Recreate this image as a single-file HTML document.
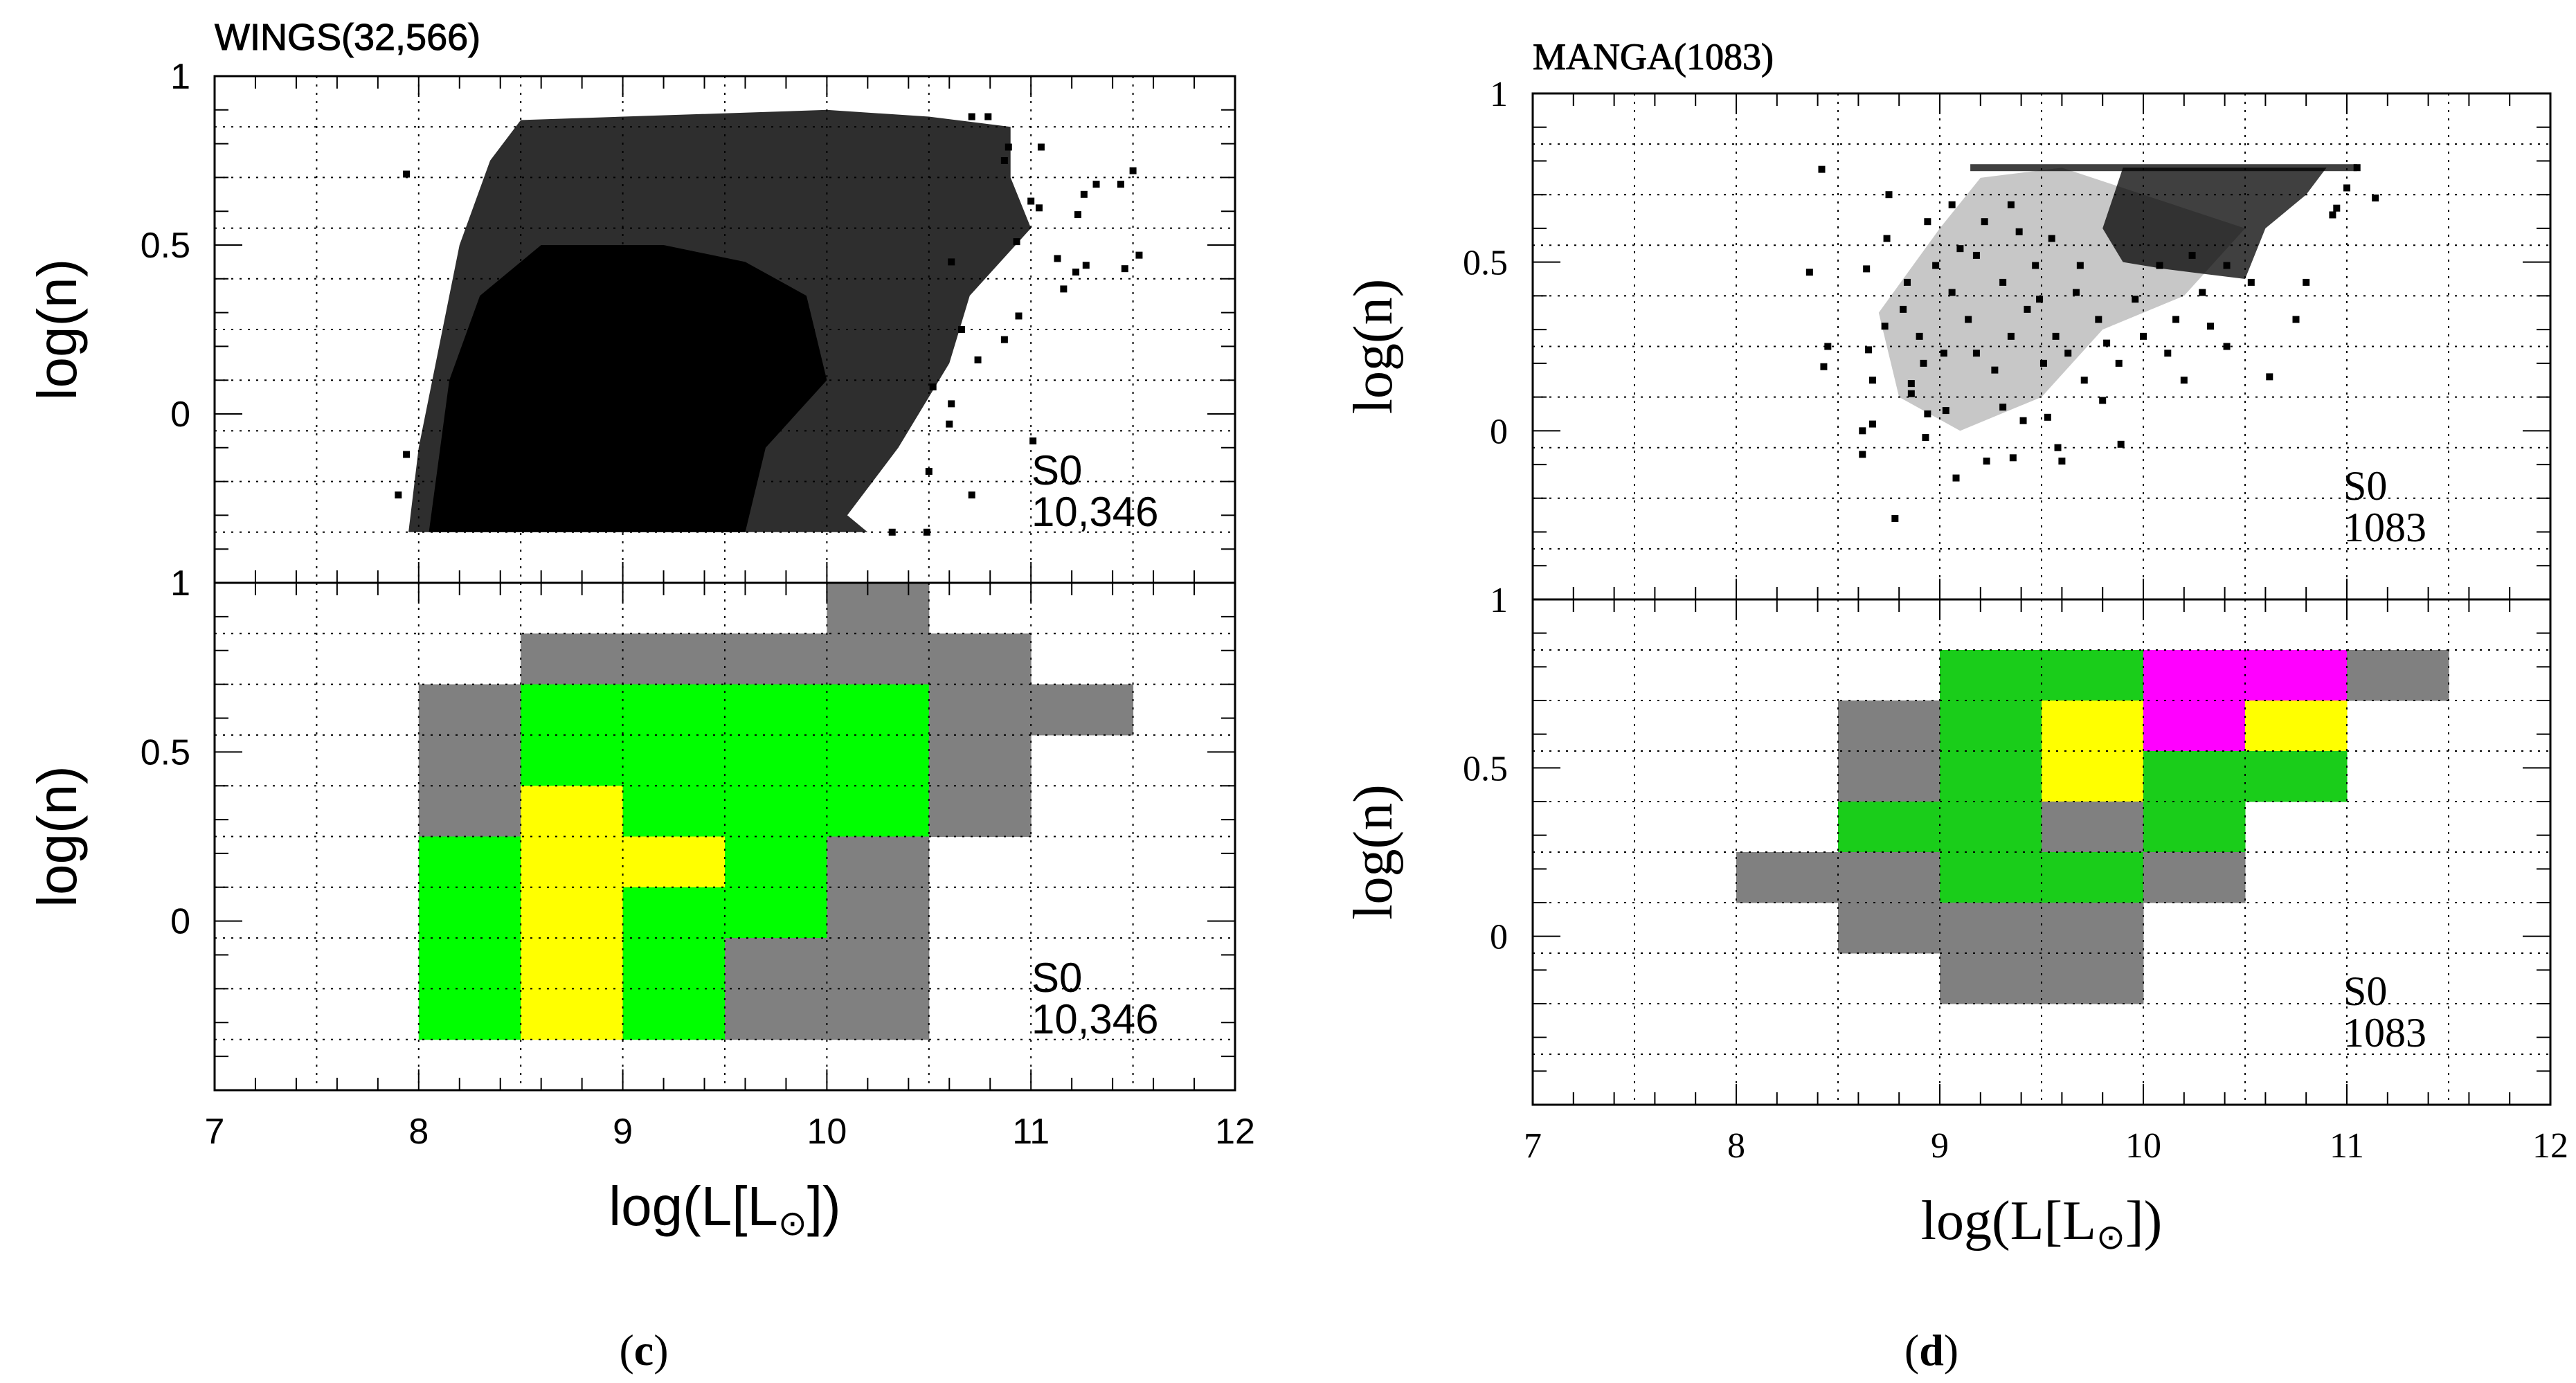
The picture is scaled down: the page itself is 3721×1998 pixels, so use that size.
<!DOCTYPE html>
<html><head><meta charset="utf-8"><style>
html,body{margin:0;padding:0;background:#fff;}
svg{display:block;}
</style></head><body>
<svg id="fig" width="3721" height="1998" viewBox="0 0 3721 1998" xmlns="http://www.w3.org/2000/svg">
<rect width="3721" height="1998" fill="#fff"/>
</svg>
<script>
// ---- data ----
const xTickLabels = ["7","8","9","10","11","12"];
const yTickLabels = ["0","0.5","1"];
const leftEnvelopeX = [7.95,8.0,8.1,8.2,8.35,8.5,9.0,10.0,10.5,10.9,10.9,11.0,10.7,10.6,10.35,10.1,10.2];
const leftEnvelopeY = [-0.35,-0.1,0.2,0.5,0.75,0.87,0.88,0.9,0.88,0.85,0.7,0.55,0.35,0.15,-0.1,-0.3,-0.35];
const leftCoreX = [8.05,8.15,8.3,8.6,9.2,9.6,9.9,10.0,9.7,9.6];
const leftCoreY = [-0.35,0.1,0.35,0.5,0.5,0.45,0.35,0.1,-0.1,-0.35];
const leftPtsX = [11.01,10.71,10.49,10.32,10.94,10.87,10.74,11.16,11.27,11.46,11.13,11.44,11.26,11.23,11.04,11.05,10.79,10.71,10.61,10.66,10.52,10.60,10.50,10.61,10.93,11.00,10.87,10.89,11.5,11.53,11.32,11.22,7.94,7.94,7.90];
const leftPtsY = [-0.08,-0.24,-0.35,-0.35,0.29,0.22,0.16,0.37,0.44,0.43,0.46,0.68,0.65,0.59,0.61,0.79,0.88,0.88,0.45,0.25,0.08,-0.03,-0.17,0.03,0.51,0.63,0.75,0.79,0.72,0.47,0.68,0.42,0.71,-0.12,-0.24];
const rightMidX = [8.7,9.0,9.2,9.6,10.5,10.2,9.8,9.5,9.1,8.8];
const rightMidY = [0.35,0.6,0.75,0.78,0.6,0.4,0.3,0.1,0.0,0.1];
const rightDenseX = [9.8,9.9,10.9,10.8,10.6,10.5,10.1,9.9];
const rightDenseY = [0.6,0.78,0.78,0.7,0.6,0.45,0.48,0.5];
const rightPtsX = [8.42,8.36,8.45,8.43,8.75,8.74,8.64,8.65,8.67,8.67,8.62,8.62,8.78,8.86,8.86,8.93,8.94,9.03,9.08,9.23,9.31,9.36,9.41,9.53,9.58,9.60,9.89,10.20,10.62,10.41,10.75,10.80,11.14,10.93,10.16,10.33,9.88,9.80,9.71,9.63,9.51,8.98,9.06,9.14,9.18,9.27,9.35,9.43,8.90,8.82,9.02,9.10,9.22,9.35,9.47,9.55,9.67,9.18,9.31,9.39,9.49,9.57,9.69,9.78,9.82,9.96,10.08,10.24,10.41,10.53,10.00,10.12,10.29,8.73,8.84,8.94,9.06,8.92,11.05,11.0,10.95];
const rightPtsY = [0.775,0.47,0.25,0.19,0.70,0.57,0.48,0.24,0.15,0.02,0.00,-0.07,-0.26,0.14,0.11,-0.02,0.05,0.06,-0.14,-0.09,0.07,-0.08,0.03,0.04,-0.05,-0.09,-0.04,0.15,0.16,0.25,0.33,0.44,0.69,0.64,0.33,0.31,0.20,0.09,0.15,0.23,0.20,0.49,0.41,0.33,0.23,0.18,0.28,0.36,0.28,0.36,0.23,0.54,0.62,0.67,0.49,0.57,0.41,0.52,0.44,0.59,0.39,0.28,0.49,0.33,0.26,0.39,0.49,0.52,0.49,0.44,0.28,0.23,0.41,0.31,0.44,0.62,0.67,0.20,0.78,0.72,0.66];
const rightCapY = 0.78;
const rightCapStart = 9.15;
const rightCapEnd = 11.05;
// heatmap cells: bin start x (width 0.5), bin start y (height 0.15), color class
const leftCellX = [10, 8.5,9,9.5,10,10.5, 8,8.5,9,9.5,10,10.5,11, 8,8.5,9,9.5,10,10.5, 8,8.5,9,9.5,10,10.5, 8,8.5,9,9.5,10, 8,8.5,9,9.5,10, 8,8.5,9,9.5,10, 8,8.5,9,9.5,10];
const leftCellY = [0.85, 0.7,0.7,0.7,0.7,0.7, 0.55,0.55,0.55,0.55,0.55,0.55,0.55, 0.4,0.4,0.4,0.4,0.4,0.4, 0.25,0.25,0.25,0.25,0.25,0.25, 0.1,0.1,0.1,0.1,0.1, -0.05,-0.05,-0.05,-0.05,-0.05, -0.2,-0.2,-0.2,-0.2,-0.2, -0.35,-0.35,-0.35,-0.35,-0.35];
const leftCellC = ["g", "g","g","g","g","g", "g","G","G","G","G","g","g", "g","G","G","G","G","g", "g","y","G","G","G","g", "G","y","y","G","g", "G","y","G","G","g", "G","y","G","g","g", "G","y","G","g","g"];
const rightCellX = [9,9.5,10,10.5,11, 8.5,9,9.5,10,10.5, 8.5,9,9.5,10,10.5, 8.5,9,9.5,10, 8,8.5,9,9.5,10, 8.5,9,9.5, 9,9.5];
const rightCellY = [0.7,0.7,0.7,0.7,0.7, 0.55,0.55,0.55,0.55,0.55, 0.4,0.4,0.4,0.4,0.4, 0.25,0.25,0.25,0.25, 0.1,0.1,0.1,0.1,0.1, -0.05,-0.05,-0.05, -0.2,-0.2];
const rightCellC = ["G","G","m","m","g", "g","G","y","m","y", "g","G","y","G","G", "G","G","g","G", "g","g","G","G","g", "g","g","g", "g","g"];

// ---- drawing ----
const NS = "http://www.w3.org/2000/svg";
const svg = document.getElementById("fig");
function mk(tag, attrs, parent){ const e=document.createElementNS(NS,tag); for(const k in attrs) e.setAttribute(k,attrs[k]); (parent||svg).appendChild(e); return e; }

function panelAxes(x0,x1,yTop,yBot){
  const sx = v => x0 + (v-7)/5*(x1-x0);
  const sy = v => yBot - (v+0.5)/1.5*(yBot-yTop);
  return {sx,sy};
}

function drawFrame(g,x0,x1,yTop,yBot,ax,font,labelRight,name){
  for(let v=7.5; v<12; v+=0.5){
    const l=mk("line",{x1:ax.sx(v),x2:ax.sx(v),y1:yTop,y2:yBot,stroke:"#000","stroke-width":2,"stroke-dasharray":"3 9"},g);
    
    
  }
  for(let k=0;k<9;k++){
    const v=-0.35+0.15*k;
    const l=mk("line",{x1:x0,x2:x1,y1:ax.sy(v),y2:ax.sy(v),stroke:"#000","stroke-width":2,"stroke-dasharray":"3 9"},g);
    
    
  }
  for(let i=0;i<=25;i++){
    const v=7+i*0.2, major=(i%5===0), L=major?30:18;
    mk("line",{x1:ax.sx(v),x2:ax.sx(v),y1:yTop,y2:yTop+L,stroke:"#000","stroke-width":2},g);
    mk("line",{x1:ax.sx(v),x2:ax.sx(v),y1:yBot,y2:yBot-L,stroke:"#000","stroke-width":2},g);
  }
  for(let i=0;i<=15;i++){
    const v=-0.5+i*0.1, major=(Math.abs(v*2-Math.round(v*2))<1e-6), L=major?40:20;
    mk("line",{x1:x0,x2:x0+L,y1:ax.sy(v),y2:ax.sy(v),stroke:"#000","stroke-width":2},g);
    mk("line",{x1:x1,x2:x1-L,y1:ax.sy(v),y2:ax.sy(v),stroke:"#000","stroke-width":2},g);
  }
  const r=mk("rect",{x:x0,y:yTop,width:x1-x0,height:yBot-yTop,fill:"none",stroke:"#000","stroke-width":3},g);
  
  
  yTickLabels.forEach(s=>{
    const t=mk("text",{x:labelRight,y:ax.sy(parseFloat(s))+18,"font-size":52,"text-anchor":"end","font-family":font},g);
    t.textContent=s;
    
    
  });
}

function drawPanel(opts){
  const {x0,x1,yTop,yMid,yBot,font,title,titleY,labelRight,ylabX,xlabY,xtitleY,color,cellX,cellY,cellC,sLab,sTopY,sBotY,sX,name} = opts;
  const g=mk("g",{},svg);
  
  
  const top=panelAxes(x0,x1,yTop,yMid), bot=panelAxes(x0,x1,yMid,yBot);
  const hg=mk("g",{},g);
  
  
  cellX.forEach((cx,i)=>{
    const cy=cellY[i];
    const rc=mk("rect",{x:bot.sx(cx),y:bot.sy(cy+0.15),width:bot.sx(cx+0.5)-bot.sx(cx)+0.5,height:bot.sy(cy)-bot.sy(cy+0.15)+0.5,fill:color[cellC[i]]},hg);
    
    
  });
  const sg=mk("g",{},g);
  
  
  opts.scatter(sg,top);
  drawFrame(g,x0,x1,yTop,yMid,top,font,labelRight,name+'-top');
  drawFrame(g,x0,x1,yMid,yBot,bot,font,labelRight,name+'-bottom');
  xTickLabels.forEach(s=>{
    const t=mk("text",{x:bot.sx(parseFloat(s)),y:xlabY,"font-size":52,"text-anchor":"middle","font-family":font},g);
    t.textContent=s;
    
    
  });
  const xt=mk("text",{x:(x0+x1)/2,y:xtitleY,"font-size":80,"text-anchor":"middle","font-family":font},g);
  xt.innerHTML='log(L[L<tspan font-size="50" dy="14">⊙</tspan><tspan dy="-14">])</tspan>';
  
  
  [ (yTop+yMid)/2, (yMid+yBot)/2 ].forEach(cy=>{
    const yt=mk("text",{x:ylabX,y:cy,"font-size":80,"text-anchor":"middle","font-family":font,transform:`rotate(-90 ${ylabX} ${cy})`},g);
    yt.textContent='log(n)';
    
    
  });
  const tt=mk("text",{x:x0,y:titleY,"font-size":54,"font-family":font,stroke:"#000","stroke-width":1},g);
  tt.textContent=title;
  
  
  [[sTopY,'annotation-top'],[sBotY,'annotation-bottom']].forEach(([y,nm])=>{
    const a=mk("text",{x:sX,y:y,"font-size":60,"font-family":font},g);
    a.innerHTML=`<tspan x="${sX}">S0</tspan><tspan x="${sX}" dy="60">${sLab}</tspan>`;
    
    
  });
}

function poly(g,ax,xs,ys,fill,op,nm){
  const p=mk("polygon",{points:xs.map((x,i)=>ax.sx(x)+","+ax.sy(ys[i])).join(" "),fill:fill,"fill-opacity":op},g);
  
  
}
function pts(g,ax,xs,ys,s){
  xs.forEach((x,i)=>{
    const r=mk("rect",{x:ax.sx(x)-s/2,y:ax.sy(ys[i])-s/2,width:s,height:s,fill:"#000"},g);
    
    
  });
}

drawPanel({name:'panel-c',x0:310,x1:1784,yTop:110,yMid:842,yBot:1575,font:'"Liberation Sans", sans-serif',
  title:'WINGS(32,566)',titleY:72,labelRight:275,ylabX:110,xlabY:1652,xtitleY:1770,
  color:{g:"#808080",G:"#00ff00",y:"#ffff00",m:"#ff00ff"},
  cellX:leftCellX,cellY:leftCellY,cellC:leftCellC,sLab:'10,346',sTopY:700,sBotY:1433,sX:1490,
  scatter:(g,ax)=>{ poly(g,ax,leftEnvelopeX,leftEnvelopeY,"#000",0.82,'scatter-envelope'); poly(g,ax,leftCoreX,leftCoreY,"#000",1,'scatter-core'); pts(g,ax,leftPtsX,leftPtsY,10); }
});
drawPanel({name:'panel-d',x0:2214,x1:3684,yTop:135,yMid:866,yBot:1596,font:'"Liberation Serif", serif',
  title:'MANGA(1083)',titleY:100,labelRight:2178,ylabX:2010,xlabY:1672,xtitleY:1790,
  color:{g:"#808080",G:"#1acd1a",y:"#ffff00",m:"#ff00ff"},
  cellX:rightCellX,cellY:rightCellY,cellC:rightCellC,sLab:'1083',sTopY:722,sBotY:1452,sX:3385,
  scatter:(g,ax)=>{ poly(g,ax,rightMidX,rightMidY,"#000",0.22,'scatter-medium-density'); poly(g,ax,rightDenseX,rightDenseY,"#000",0.75,'scatter-dense');
    const b=mk("rect",{x:ax.sx(rightCapStart),y:ax.sy(rightCapY)-5,width:ax.sx(rightCapEnd)-ax.sx(rightCapStart),height:10,fill:"#000","fill-opacity":0.75},g);
    
    
    pts(g,ax,rightPtsX,rightPtsY,10); }
});

[['(c)',930],['(d)',2790]].forEach(([s,x])=>{
  const t=mk("text",{x:x,y:1972,"font-size":64,"text-anchor":"middle","font-family":'"Liberation Serif", serif'});
  t.innerHTML=`(<tspan font-weight="bold">${s[1]}</tspan>)`;
  
  
});
</script>
</body></html>
